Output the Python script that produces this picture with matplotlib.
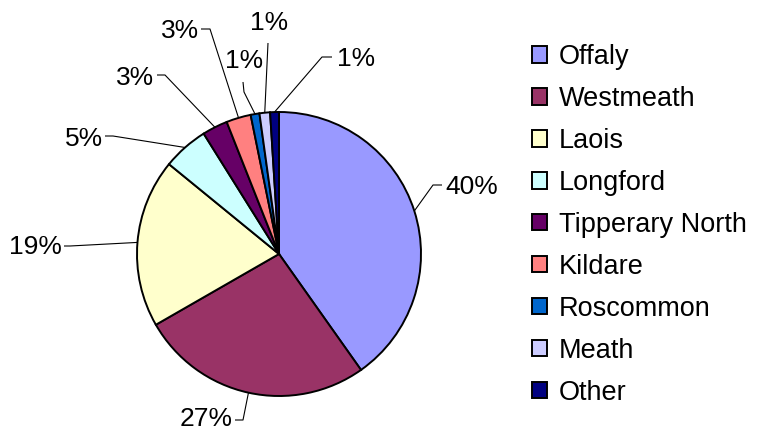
import matplotlib
matplotlib.use('Agg')
import matplotlib.pyplot as plt
import numpy as np

plt.rcParams['font.family'] = ['Liberation Sans', 'DejaVu Sans']

categories = ['Offaly', 'Westmeath', 'Laois', 'Longford', 'Tipperary North',
              'Kildare', 'Roscommon', 'Meath', 'Other']
values = [40.2, 26.5, 19.2, 5.2, 2.9, 2.8, 1.0, 1.2, 1.0]
pct_labels = ['40%', '27%', '19%', '5%', '3%', '3%', '1%', '1%', '1%']
colors = ['#9999FF', '#993366', '#FFFFCC', '#CCFFFF', '#660066',
          '#FF8080', '#0066CC', '#CCCCFF', '#000080']

# label layout (pixel coords, y downward): text x, text y, ha, elbow, stub end
label_layout = [
    (445, 187, 'left',   (433, 185), (442, 185)),
    (233, 419, 'right',  (243, 420), (235, 420)),
    (62, 247, 'right',   (70, 246), (64, 246)),
    (103, 139, 'right',  (113, 136), (105, 136)),
    (154, 78, 'right',   (165, 75), (157, 75)),
    (199, 31, 'right',   (210, 29), (201, 29)),
    (244, 61, 'center',  (244, 92), (243, 82)),
    (269, 23, 'center',  (268, 43), (268, 43)),
    (337, 59, 'left',    (322, 57), (332, 57)),
]

W, H = 764, 430
fig = plt.figure(figsize=(W / 100, H / 100), dpi=100)
ax = fig.add_axes([0, 0, 1, 1])

cx, cy, R = 279, 254, 142
wedges, _ = ax.pie(values, colors=colors, startangle=-90, counterclock=True,
                   center=(cx, cy), radius=R,
                   wedgeprops=dict(edgecolor='black', linewidth=1.4))
ax.set_xlim(0, W)
ax.set_ylim(H, 0)
ax.set_aspect('equal')
ax.axis('off')

for w, lab, (tx, ty, ha, elbow, stub) in zip(wedges, pct_labels, label_layout):
    mid = np.deg2rad((w.theta1 + w.theta2) / 2)
    ex, ey = cx + R * np.cos(mid), cy + R * np.sin(mid)
    ax.plot([ex, elbow[0], stub[0]], [ey, elbow[1], stub[1]],
            color='black', linewidth=0.8, solid_capstyle='butt')
    ax.text(tx, ty, lab, ha=ha, va='center', fontsize=19, color='black')

ax.legend(wedges, categories, loc='upper left', bbox_to_anchor=(532, 44),
          bbox_transform=ax.transData, frameon=False, fontsize=19.5,
          handlelength=0.55, handleheight=0.55, handletextpad=0.45,
          labelspacing=0.59, borderpad=0, borderaxespad=0)

fig.savefig('out.png', dpi=100)
